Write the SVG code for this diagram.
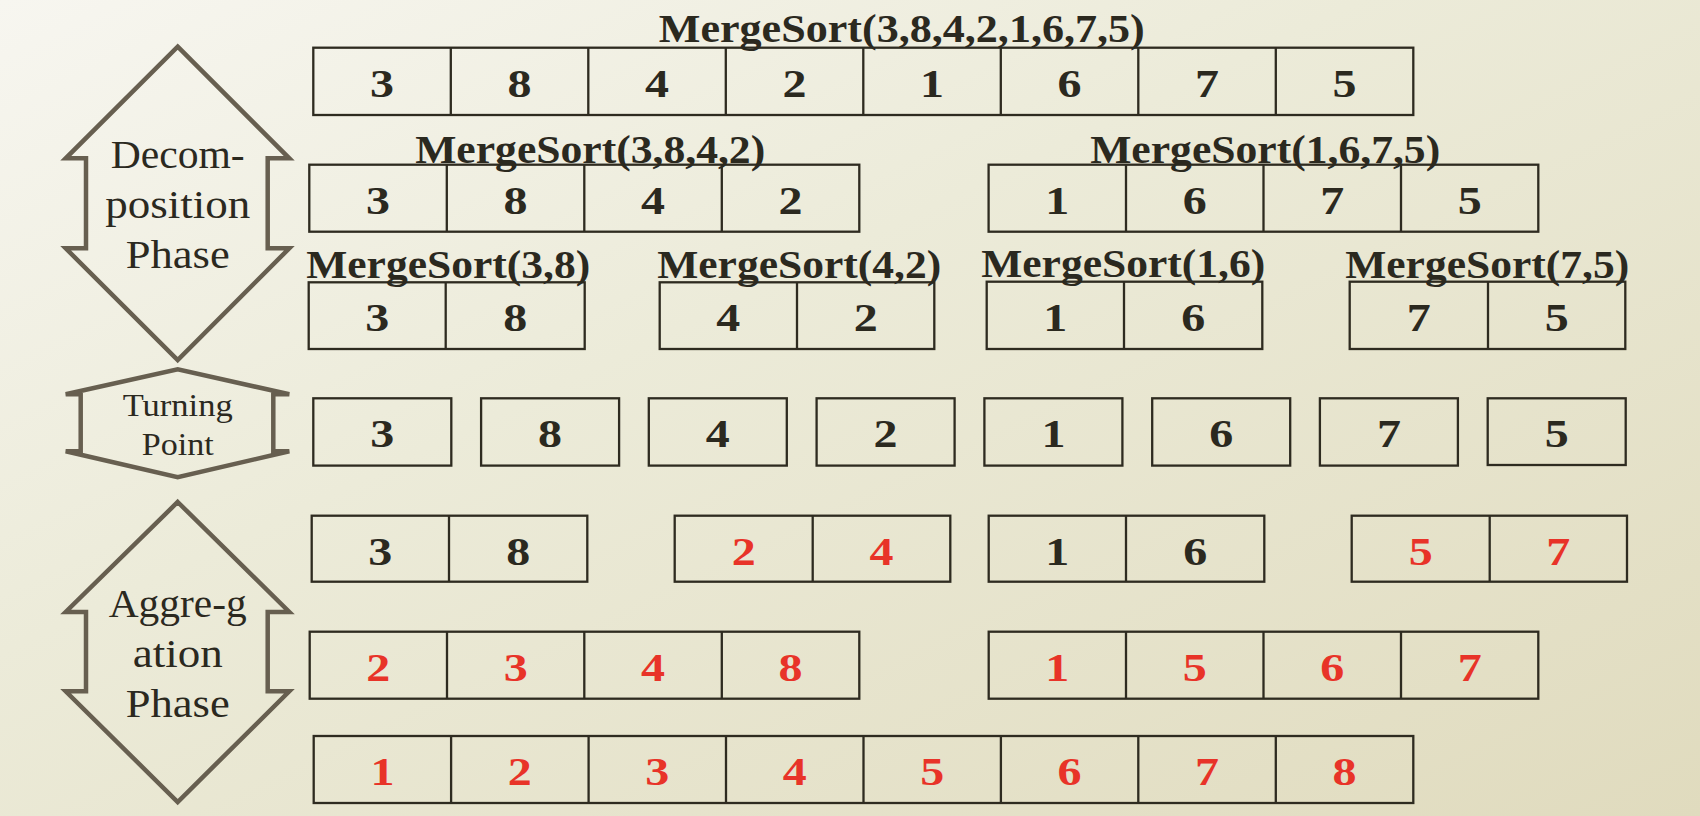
<svg xmlns="http://www.w3.org/2000/svg" width="1700" height="816" viewBox="0 0 1700 816">
<defs>
<linearGradient id="bg" x1="0" y1="0" x2="1" y2="1">
<stop offset="0" stop-color="#f7f6f0"/>
<stop offset="0.4" stop-color="#ecebd9"/>
<stop offset="1" stop-color="#e0dbbe"/>
</linearGradient>
<style>
.cell{fill:none;stroke:#2e2b20;stroke-width:2.3}
.div{stroke:#2e2b20;stroke-width:2.3}
.d{font-family:"Liberation Serif","Times New Roman",serif;font-weight:bold;font-size:39px;text-anchor:middle;fill:#2b291f}
.r{fill:#e83328}
.lbl{font-family:"Liberation Serif","Times New Roman",serif;font-weight:bold;font-size:40px;fill:#2b291f}
.ph{font-family:"Liberation Serif","Times New Roman",serif;font-size:40px;text-anchor:middle;fill:#2b291f}
.tp{font-family:"Liberation Serif","Times New Roman",serif;font-size:31px;text-anchor:middle;fill:#2b291f}
.arrow{fill:none;stroke:#675f50;stroke-width:4.5;stroke-linejoin:miter}
</style>
</defs>
<rect x="0" y="0" width="1700" height="816" fill="url(#bg)"/>

<g id="phase-decomposition">
<path class="arrow" d="M177.7,46.7 L289.3,158.3 L267.7,158.3 L267.7,248.3 L289.3,248.3 L177.7,360 L65.7,248.3 L86,248.3 L86,158.3 L65.7,158.3 Z"/>
<text class="ph" x="177.7" y="168.3" textLength="134" lengthAdjust="spacingAndGlyphs">Decom-</text>
<text class="ph" x="177.7" y="218.3" textLength="145" lengthAdjust="spacingAndGlyphs">position</text>
<text class="ph" x="177.7" y="268.3" textLength="104" lengthAdjust="spacingAndGlyphs">Phase</text>
</g>

<g id="phase-turning">
<path class="arrow" d="M65.7,394.3 L177.7,369.3 L289.3,394.3 L273.3,394.3 L273.3,451.3 L289.3,451.3 L177.7,477.3 L65.7,451.3 L80.7,451.3 L80.7,394.3 Z"/>
<text class="tp" x="177.7" y="416.3" textLength="110" lengthAdjust="spacingAndGlyphs">Turning</text>
<text class="tp" x="177.7" y="455" textLength="72" lengthAdjust="spacingAndGlyphs">Point</text>
</g>

<g id="phase-aggregation">
<path class="arrow" d="M177.7,502 L289.3,612 L267.7,612 L267.7,691.3 L289.3,691.3 L177.7,802 L65.7,691.3 L86,691.3 L86,612 L65.7,612 Z"/>
<text class="ph" x="177.7" y="617.3" textLength="138" lengthAdjust="spacingAndGlyphs">Aggre-g</text>
<text class="ph" x="177.7" y="667.3" textLength="90" lengthAdjust="spacingAndGlyphs">ation</text>
<text class="ph" x="177.7" y="717.3" textLength="104" lengthAdjust="spacingAndGlyphs">Phase</text>
</g>

<g id="connectors"></g>

<!-- Level 1 -->
<g id="ms-38427165">
<rect class="cell" x="313.3" y="47.7" width="1100" height="67.3"/>
<path class="div" d="M450.8,47.7V115M588.3,47.7V115M725.8,47.7V115M863.3,47.7V115M1000.8,47.7V115M1138.3,47.7V115M1275.8,47.7V115"/>
<text class="d" y="96.7" textLength="24" lengthAdjust="spacingAndGlyphs" x="382.05">3</text>
<text class="d" y="96.7" textLength="24" lengthAdjust="spacingAndGlyphs" x="519.55">8</text>
<text class="d" y="96.7" textLength="24" lengthAdjust="spacingAndGlyphs" x="657.05">4</text>
<text class="d" y="96.7" textLength="24" lengthAdjust="spacingAndGlyphs" x="794.55">2</text>
<text class="d" y="96.7" textLength="24" lengthAdjust="spacingAndGlyphs" x="932.05">1</text>
<text class="d" y="96.7" textLength="24" lengthAdjust="spacingAndGlyphs" x="1069.55">6</text>
<text class="d" y="96.7" textLength="24" lengthAdjust="spacingAndGlyphs" x="1207.05">7</text>
<text class="d" y="96.7" textLength="24" lengthAdjust="spacingAndGlyphs" x="1344.55">5</text>
<text class="lbl" x="658.8" y="41.5" textLength="486" lengthAdjust="spacingAndGlyphs">MergeSort(3,8,4,2,1,6,7,5)</text>
</g>

<!-- Level 2 -->
<g id="ms-3842">
<rect class="cell" x="309.3" y="164.7" width="550" height="67"/>
<path class="div" d="M446.8,164.7V231.7M584.3,164.7V231.7M721.8,164.7V231.7"/>
<text class="d" y="213.7" textLength="24" lengthAdjust="spacingAndGlyphs" x="378.05">3</text>
<text class="d" y="213.7" textLength="24" lengthAdjust="spacingAndGlyphs" x="515.55">8</text>
<text class="d" y="213.7" textLength="24" lengthAdjust="spacingAndGlyphs" x="653.05">4</text>
<text class="d" y="213.7" textLength="24" lengthAdjust="spacingAndGlyphs" x="790.55">2</text>
<text class="lbl" x="415.2" y="162.5" textLength="350" lengthAdjust="spacingAndGlyphs">MergeSort(3,8,4,2)</text>
</g>
<g id="ms-1675">
<rect class="cell" x="988.6" y="164.7" width="549.7" height="67"/>
<path class="div" d="M1126,164.7V231.7M1263.5,164.7V231.7M1401,164.7V231.7"/>
<text class="d" y="213.7" textLength="24" lengthAdjust="spacingAndGlyphs" x="1057.3">1</text>
<text class="d" y="213.7" textLength="24" lengthAdjust="spacingAndGlyphs" x="1194.75">6</text>
<text class="d" y="213.7" textLength="24" lengthAdjust="spacingAndGlyphs" x="1332.25">7</text>
<text class="d" y="213.7" textLength="24" lengthAdjust="spacingAndGlyphs" x="1469.65">5</text>
<text class="lbl" x="1090.2" y="162.5" textLength="350" lengthAdjust="spacingAndGlyphs">MergeSort(1,6,7,5)</text>
</g>

<!-- Level 3 -->
<g id="ms-38">
<rect class="cell" x="308.7" y="282.3" width="276" height="66.7"/>
<path class="div" d="M445.7,282.3V349"/>
<text class="d" y="331.3" textLength="24" lengthAdjust="spacingAndGlyphs" x="377.2">3</text>
<text class="d" y="331.3" textLength="24" lengthAdjust="spacingAndGlyphs" x="515.2">8</text>
<text class="lbl" x="306.2" y="278.3" textLength="284" lengthAdjust="spacingAndGlyphs">MergeSort(3,8)</text>
</g>
<g id="ms-42">
<rect class="cell" x="659.7" y="282.3" width="274.6" height="66.7"/>
<path class="div" d="M797,282.3V349"/>
<text class="d" y="331.3" textLength="24" lengthAdjust="spacingAndGlyphs" x="728.35">4</text>
<text class="d" y="331.3" textLength="24" lengthAdjust="spacingAndGlyphs" x="865.65">2</text>
<text class="lbl" x="657.2" y="278.3" textLength="284" lengthAdjust="spacingAndGlyphs">MergeSort(4,2)</text>
</g>
<g id="ms-16">
<rect class="cell" x="986.7" y="281.7" width="275.6" height="67.3"/>
<path class="div" d="M1124,281.7V349"/>
<text class="d" y="331.3" textLength="24" lengthAdjust="spacingAndGlyphs" x="1055.35">1</text>
<text class="d" y="331.3" textLength="24" lengthAdjust="spacingAndGlyphs" x="1193.15">6</text>
<text class="lbl" x="981.2" y="276.8" textLength="284" lengthAdjust="spacingAndGlyphs">MergeSort(1,6)</text>
</g>
<g id="ms-75">
<rect class="cell" x="1349.7" y="281.7" width="275.6" height="67.3"/>
<path class="div" d="M1488,281.7V349"/>
<text class="d" y="331.3" textLength="24" lengthAdjust="spacingAndGlyphs" x="1418.85">7</text>
<text class="d" y="331.3" textLength="24" lengthAdjust="spacingAndGlyphs" x="1556.65">5</text>
<text class="lbl" x="1345.2" y="278.3" textLength="284" lengthAdjust="spacingAndGlyphs">MergeSort(7,5)</text>
</g>

<!-- Turning point singles -->
<g id="single-3"><rect class="cell" x="313.3" y="398.3" width="138" height="67.3"/><text class="d" y="447.3" textLength="24" lengthAdjust="spacingAndGlyphs" x="382.3">3</text></g>
<g id="single-8"><rect class="cell" x="481.1" y="398.3" width="138" height="67.3"/><text class="d" y="447.3" textLength="24" lengthAdjust="spacingAndGlyphs" x="550.1">8</text></g>
<g id="single-4"><rect class="cell" x="648.8" y="398.3" width="138" height="67.3"/><text class="d" y="447.3" textLength="24" lengthAdjust="spacingAndGlyphs" x="717.8">4</text></g>
<g id="single-2"><rect class="cell" x="816.6" y="398.3" width="138" height="67.3"/><text class="d" y="447.3" textLength="24" lengthAdjust="spacingAndGlyphs" x="885.6">2</text></g>
<g id="single-1"><rect class="cell" x="984.4" y="398.3" width="138" height="67.3"/><text class="d" y="447.3" textLength="24" lengthAdjust="spacingAndGlyphs" x="1053.4">1</text></g>
<g id="single-6"><rect class="cell" x="1152.2" y="398.3" width="138" height="67.3"/><text class="d" y="447.3" textLength="24" lengthAdjust="spacingAndGlyphs" x="1221.2">6</text></g>
<g id="single-7"><rect class="cell" x="1319.9" y="398.3" width="138" height="67.3"/><text class="d" y="447.3" textLength="24" lengthAdjust="spacingAndGlyphs" x="1388.9">7</text></g>
<g id="single-5"><rect class="cell" x="1487.7" y="398.3" width="138" height="66.7"/><text class="d" y="447.3" textLength="24" lengthAdjust="spacingAndGlyphs" x="1556.7">5</text></g>

<!-- Merge level 1 -->
<g id="merged-38">
<rect class="cell" x="311.7" y="515.7" width="275.6" height="66"/>
<path class="div" d="M449,515.7V581.7"/>
<text class="d" y="564.7" textLength="24" lengthAdjust="spacingAndGlyphs" x="380.35">3</text>
<text class="d" y="564.7" textLength="24" lengthAdjust="spacingAndGlyphs" x="518.15">8</text>
</g>
<g id="merged-24">
<rect class="cell" x="674.7" y="515.7" width="275.6" height="66"/>
<path class="div" d="M812.7,515.7V581.7"/>
<text class="d r" y="564.7" textLength="24" lengthAdjust="spacingAndGlyphs" x="743.7">2</text>
<text class="d r" y="564.7" textLength="24" lengthAdjust="spacingAndGlyphs" x="881.5">4</text>
</g>
<g id="merged-16">
<rect class="cell" x="988.7" y="515.7" width="275.6" height="66"/>
<path class="div" d="M1126,515.7V581.7"/>
<text class="d" y="564.7" textLength="24" lengthAdjust="spacingAndGlyphs" x="1057.35">1</text>
<text class="d" y="564.7" textLength="24" lengthAdjust="spacingAndGlyphs" x="1195.15">6</text>
</g>
<g id="merged-57">
<rect class="cell" x="1351.7" y="515.7" width="275.3" height="66"/>
<path class="div" d="M1489.7,515.7V581.7"/>
<text class="d r" y="564.7" textLength="24" lengthAdjust="spacingAndGlyphs" x="1420.7">5</text>
<text class="d r" y="564.7" textLength="24" lengthAdjust="spacingAndGlyphs" x="1558.35">7</text>
</g>

<!-- Merge level 2 -->
<g id="merged-2348">
<rect class="cell" x="309.7" y="631.7" width="549.6" height="67"/>
<path class="div" d="M447,631.7V698.7M584.3,631.7V698.7M721.8,631.7V698.7"/>
<text class="d r" y="680.7" textLength="24" lengthAdjust="spacingAndGlyphs" x="378.35">2</text>
<text class="d r" y="680.7" textLength="24" lengthAdjust="spacingAndGlyphs" x="515.65">3</text>
<text class="d r" y="680.7" textLength="24" lengthAdjust="spacingAndGlyphs" x="653.05">4</text>
<text class="d r" y="680.7" textLength="24" lengthAdjust="spacingAndGlyphs" x="790.55">8</text>
</g>
<g id="merged-1567">
<rect class="cell" x="988.7" y="631.7" width="549.6" height="67"/>
<path class="div" d="M1126,631.7V698.7M1263.5,631.7V698.7M1401,631.7V698.7"/>
<text class="d r" y="680.7" textLength="24" lengthAdjust="spacingAndGlyphs" x="1057.35">1</text>
<text class="d r" y="680.7" textLength="24" lengthAdjust="spacingAndGlyphs" x="1194.75">5</text>
<text class="d r" y="680.7" textLength="24" lengthAdjust="spacingAndGlyphs" x="1332.25">6</text>
<text class="d r" y="680.7" textLength="24" lengthAdjust="spacingAndGlyphs" x="1469.65">7</text>
</g>

<!-- Final -->
<g id="merged-12345678">
<rect class="cell" x="313.7" y="736" width="1099.6" height="67"/>
<path class="div" d="M451.1,736V803M588.6,736V803M726,736V803M863.5,736V803M1000.9,736V803M1138.3,736V803M1275.8,736V803"/>
<text class="d r" y="785" textLength="24" lengthAdjust="spacingAndGlyphs" x="382.4">1</text>
<text class="d r" y="785" textLength="24" lengthAdjust="spacingAndGlyphs" x="519.85">2</text>
<text class="d r" y="785" textLength="24" lengthAdjust="spacingAndGlyphs" x="657.3">3</text>
<text class="d r" y="785" textLength="24" lengthAdjust="spacingAndGlyphs" x="794.75">4</text>
<text class="d r" y="785" textLength="24" lengthAdjust="spacingAndGlyphs" x="932.2">5</text>
<text class="d r" y="785" textLength="24" lengthAdjust="spacingAndGlyphs" x="1069.6">6</text>
<text class="d r" y="785" textLength="24" lengthAdjust="spacingAndGlyphs" x="1207.05">7</text>
<text class="d r" y="785" textLength="24" lengthAdjust="spacingAndGlyphs" x="1344.55">8</text>
</g>
</svg>
